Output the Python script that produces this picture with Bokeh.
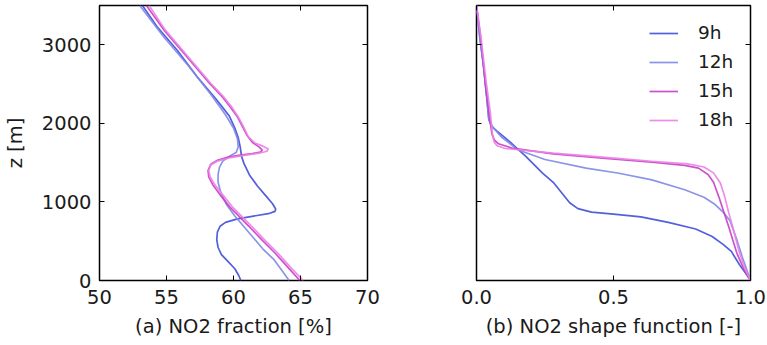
from bokeh.plotting import figure
from bokeh.layouts import row
from bokeh.models import (LinearAxis, FixedTicker, Legend, LegendItem, Range1d,
                          NumeralTickFormatter, CustomJSTickFormatter)
from bokeh.embed import file_html
from bokeh.resources import INLINE

# ---------------- data ----------------
series_labels = ["9h", "12h", "15h", "18h"]
series_colors = ["#3f4fd8", "#8088e6", "#c63fc6", "#ec80e6"]

# (a) NO2 fraction [%] vs height z [m]
frac_9h_x = [60.55, 60.4, 60.1, 59.6, 59.1, 58.85, 58.75, 58.8, 59.0, 59.4, 60.3, 61.5, 62.6, 63.1,
             63.15, 62.9, 62.4, 61.8, 61.2, 60.8, 60.6, 60.5, 60.35, 60.1, 59.7, 59.2, 58.6, 57.3,
             55.8, 54.3, 53.2]
frac_9h_z = [0, 60, 150, 240, 330, 420, 520, 620, 690, 740, 785, 820, 850, 880,
             910, 980, 1080, 1200, 1340, 1480, 1580, 1700, 1820, 1940, 2090, 2200, 2330, 2590,
             2930, 3230, 3500]

frac_12h_x = [64.15, 63.6, 63.0, 62.2, 61.5, 60.8, 60.1, 59.5, 59.05, 58.85, 58.85, 58.95, 59.2,
              59.7, 60.2, 60.35, 60.3, 60.0, 59.4, 58.3, 56.6, 54.8, 53.0]
frac_12h_z = [0, 130, 270, 400, 540, 680, 820, 960, 1120, 1250, 1350, 1440, 1520,
              1580, 1630, 1700, 1800, 1940, 2110, 2370, 2740, 3100, 3500]

frac_15h_x = [64.95, 64.1, 63.1, 62.1, 61.15, 60.4, 59.7, 59.0, 58.45, 58.15, 58.1, 58.3, 58.8,
              59.6, 60.5, 61.4, 62.0, 62.15, 61.9, 61.4, 61.0, 60.7, 60.3, 59.8, 59.2, 58.2,
              56.5, 54.8, 53.5]
frac_15h_z = [0, 160, 350, 520, 690, 820, 940, 1090, 1220, 1320, 1400, 1480, 1530,
              1570, 1595, 1615, 1635, 1660, 1700, 1760, 1850, 1950, 2080, 2200, 2330, 2510,
              2850, 3190, 3500]

frac_18h_x = [65.2, 64.3, 63.3, 62.3, 61.35, 60.6, 59.9, 59.2, 58.6, 58.25, 58.15, 58.3, 58.8,
              59.8, 60.9, 61.9, 62.5, 62.6, 62.2, 61.6, 61.1, 60.8, 60.4, 59.9, 59.3, 58.3,
              56.6, 54.9, 53.7]
frac_18h_z = [0, 160, 350, 520, 690, 820, 940, 1090, 1220, 1320, 1400, 1470, 1520,
              1565, 1595, 1620, 1645, 1675, 1710, 1750, 1830, 1940, 2070, 2200, 2330, 2510,
              2850, 3190, 3500]

# (b) NO2 shape function [-] vs height z [m]
shape_9h_x = [0.0, 0.012, 0.026, 0.037, 0.045, 0.055, 0.075, 0.12, 0.18, 0.24, 0.28, 0.31, 0.34,
              0.37, 0.42, 0.5, 0.6, 0.7, 0.8, 0.86, 0.9, 0.93, 0.96, 0.985, 1.0]
shape_9h_z = [3500, 3100, 2720, 2350, 2050, 1960, 1900, 1770, 1580, 1370, 1250, 1120, 990,
              915, 870, 845, 810, 740, 655, 560, 460, 370, 200, 80, 0]

shape_12h_x = [0.0, 0.012, 0.026, 0.037, 0.045, 0.06, 0.09, 0.15, 0.25, 0.4, 0.52, 0.64, 0.76,
               0.83, 0.87, 0.9, 0.925, 0.95, 0.97, 0.99, 1.0]
shape_12h_z = [3500, 3100, 2720, 2350, 2050, 1950, 1830, 1665, 1540, 1430, 1365, 1280, 1155,
               1060, 970, 870, 760, 520, 300, 100, 0]

shape_15h_x = [0.0, 0.015, 0.032, 0.045, 0.056, 0.065, 0.08, 0.13, 0.28, 0.46, 0.64, 0.76, 0.81,
               0.845, 0.865, 0.885, 0.9, 0.92, 0.95, 0.975, 1.0]
shape_15h_z = [3500, 3100, 2510, 2150, 1870, 1790, 1740, 1685, 1612, 1556, 1505, 1465, 1430,
               1350, 1250, 1060, 900, 690, 350, 150, 0]

shape_18h_x = [0.0, 0.016, 0.036, 0.05, 0.058, 0.065, 0.075, 0.105, 0.28, 0.46, 0.64, 0.77, 0.83,
               0.865, 0.89, 0.905, 0.92, 0.935, 0.96, 0.98, 1.0]
shape_18h_z = [3500, 3100, 2510, 2150, 1860, 1760, 1715, 1680, 1622, 1570, 1518, 1484, 1445,
               1370, 1240, 1080, 870, 680, 350, 150, 0]

frac_ticks = [50, 55, 60, 65, 70]
shape_ticks = [0.0, 0.5, 1.0]
z_ticks = [0, 1000, 2000, 3000]

FONT = "DejaVu Sans"
TXT = "#1a1a1a"
TICK_PX = "19.5px"
LABEL_PX = "19.5px"
LEGEND_PX = "18.5px"


def style_axis(ax, show_labels=True):
    ax.major_tick_in = 5
    ax.major_tick_out = 0
    ax.minor_tick_line_color = None
    ax.axis_line_color = None
    ax.major_tick_line_color = "black"
    ax.major_tick_line_width = 1
    ax.major_label_text_font = FONT
    ax.major_label_text_color = TXT
    ax.axis_label_text_font = FONT
    ax.axis_label_text_font_style = "normal"
    ax.axis_label_text_color = TXT
    if show_labels:
        ax.major_label_text_font_size = TICK_PX
        ax.axis_label_text_font_size = LABEL_PX
    else:
        # tick marks only, no tick texts
        ax.formatter = CustomJSTickFormatter(code="return '';")
        ax.major_label_text_font_size = "1px"
        ax.major_label_standoff = 0
        ax.axis_label = None


def make_fig(x_range, xticks, xlabel, show_ylabels, mb_left, mb_right, width, xfmt=None):
    p = figure(width=width, height=345, x_range=x_range, y_range=Range1d(0, 3500),
               output_backend="svg", toolbar_location=None,
               min_border_left=mb_left, min_border_right=mb_right,
               min_border_top=5, min_border_bottom=65)
    p.grid.grid_line_color = None
    p.outline_line_color = "black"
    p.outline_line_width = 1.5
    p.outline_line_alpha = 1
    p.background_fill_color = "white"
    p.border_fill_color = "white"

    p.xaxis.ticker = FixedTicker(ticks=xticks)
    if xfmt is not None:
        p.xaxis.formatter = NumeralTickFormatter(format=xfmt)
    p.yaxis.ticker = FixedTicker(ticks=z_ticks)
    p.xaxis.axis_label = xlabel
    style_axis(p.xaxis[0], True)
    p.xaxis.major_label_standoff = 9
    p.xaxis.axis_label_standoff = 8
    if show_ylabels:
        p.yaxis.axis_label = "z [m]"
        style_axis(p.yaxis[0], True)
        p.yaxis.major_label_standoff = 8
        p.yaxis.axis_label_standoff = 12
    else:
        style_axis(p.yaxis[0], False)

    top = LinearAxis(ticker=FixedTicker(ticks=xticks))
    style_axis(top, False)
    p.add_layout(top, "above")
    right = LinearAxis(ticker=FixedTicker(ticks=z_ticks))
    style_axis(right, False)
    p.add_layout(right, "right")
    return p


p1 = make_fig(Range1d(50, 70), frac_ticks, "(a) NO2 fraction [%]", True, 93, 53, 420)
p2 = make_fig(Range1d(0, 1.0), shape_ticks, "(b) NO2 shape function [-]", False, 56, 17, 347,
              xfmt="0.0")

frac_data = [(frac_9h_x, frac_9h_z), (frac_12h_x, frac_12h_z),
             (frac_15h_x, frac_15h_z), (frac_18h_x, frac_18h_z)]
shape_data = [(shape_9h_x, shape_9h_z), (shape_12h_x, shape_12h_z),
              (shape_15h_x, shape_15h_z), (shape_18h_x, shape_18h_z)]

items = []
for (fx, fz), (sx, sz), col, lab in zip(frac_data, shape_data, series_colors, series_labels):
    p1.line(fx, fz, line_color=col, line_width=1.7, line_alpha=0.9)
    r = p2.line(sx, sz, line_color=col, line_width=1.7, line_alpha=0.9)
    items.append(LegendItem(label=lab, renderers=[r]))

legend = Legend(items=items, location=(173, 150),
                border_line_color=None, background_fill_alpha=0,
                label_text_font=FONT, label_text_font_size=LEGEND_PX, label_text_color=TXT,
                glyph_width=29, glyph_height=20, label_height=20, label_standoff=20,
                spacing=8, padding=5, margin=0)
p2.add_layout(legend)

layout = row(p1, p2)
open("out.html", "w").write(file_html(layout, INLINE))
